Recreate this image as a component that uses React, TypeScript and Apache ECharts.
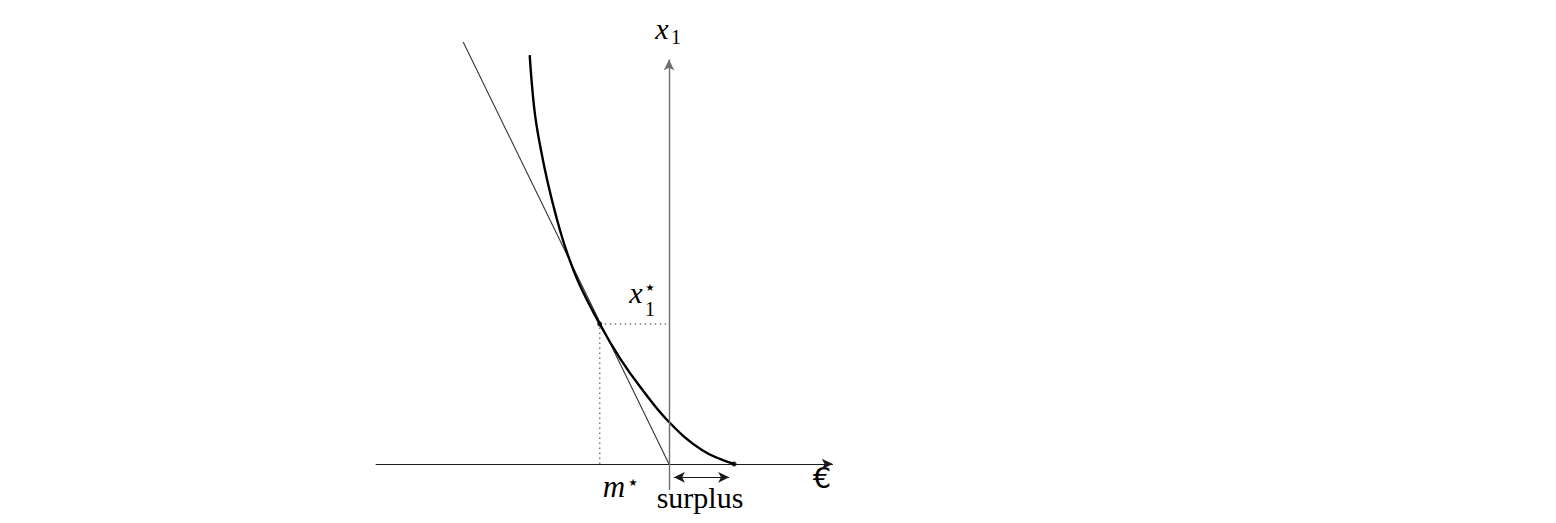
import { useEffect, useRef } from "react";
import * as echarts from "echarts";

// Indifference-type curve (units: 70px = 1)
const curveX = [-1.99, -1.96, -1.91, -1.83, -1.73, -1.61, -1.47, -1.29, -0.99, -0.7, -0.41, 0, 0.47, 0.93];
const curveY = [5.84, 5.44, 4.96, 4.49, 4.01, 3.53, 3.06, 2.59, 2.0, 1.51, 1.1, 0.6, 0.2, 0];
// Tangent (budget) line through the origin
const tangentX = [-2.94, 0];
const tangentY = [6.03, 0];
// Optimum and surplus
const mStar = -0.99;
const x1Star = 2.0;
const surplusEnd = 0.93;
const surplusY = -0.19;
// Axis extents
const xAxisFrom = -4.19;
const xAxisTo = 2.34;
const yAxisFrom = -0.37;
const yAxisTo = 5.78;
// Texts
const labelX = "x";
const labelSub1 = "1";
const labelStar = "\u22C6";
const labelM = "m";
const labelSurplus = "surplus";
const labelEuro = "\u20AC";

export default function App() {
  const ref = useRef<HTMLDivElement>(null);
  useEffect(() => {
    const chart = echarts.init(ref.current!, null, { renderer: "svg" });
    const serif = '"Liberation Serif", "DejaVu Serif", serif';
    const txt = (text: string, x: number, y: number, size: number, italic: boolean, family = serif) => ({
      type: "text",
      x,
      y,
      silent: true,
      style: {
        text,
        fontSize: size,
        fontFamily: family,
        fontStyle: italic ? "italic" : "normal",
        fill: "#000",
        align: "center",
        verticalAlign: "middle",
        textAlign: "center",
        textVerticalAlign: "middle",
      },
    });
    const arrowLine = (from: number[], to: number[], symbols: string[], color: string, width: number, z: number) => ({
      type: "line",
      data: [],
      z,
      silent: true,
      markLine: {
        silent: true,
        animation: false,
        symbol: symbols,
        symbolSize: [8, 11],
        label: { show: false },
        emphasis: { disabled: true },
        lineStyle: { color, width, type: "solid" },
        data: [[{ coord: from }, { coord: to }]],
      },
    });
    chart.setOption({
      animation: false,
      grid: { left: 361, top: 30, width: 490, height: 469 },
      xAxis: { type: "value", min: -4.4, max: 2.6, show: false },
      yAxis: { type: "value", min: -0.5, max: 6.2, show: false },
      series: [
        arrowLine([xAxisFrom, 0], [xAxisTo, 0], ["none", "arrow"], "#1a1a1a", 1.2, 1),
        arrowLine([0, yAxisFrom], [0, yAxisTo], ["none", "arrow"], "#6e6e6e", 1.4, 1),
        arrowLine([0.07, surplusY], [surplusEnd - 0.07, surplusY], ["arrow", "arrow"], "#1a1a1a", 1.2, 1),
        {
          type: "line",
          data: [[mStar, 0], [mStar, x1Star], [0, x1Star]],
          symbol: "none",
          silent: true,
          z: 2,
          lineStyle: { color: "#7a7a7a", width: 1.5, type: [1.5, 3.5] },
        },
        {
          type: "line",
          data: tangentX.map((x, i) => [x, tangentY[i]]),
          symbol: "none",
          silent: true,
          z: 3,
          lineStyle: { color: "#333", width: 1.1 },
        },
        {
          type: "line",
          data: curveX.map((x, i) => [x, curveY[i]]),
          symbol: "none",
          smooth: 0.4,
          silent: true,
          z: 4,
          lineStyle: { color: "#000", width: 2.4 },
        },
        {
          type: "scatter",
          data: [[mStar, x1Star], [surplusEnd, 0]],
          symbolSize: 5,
          silent: true,
          z: 5,
          itemStyle: { color: "#000" },
        },
      ],
      graphic: [
        txt(labelX, 662, 28, 30, true),
        txt(labelSub1, 676, 37, 20, false),
        txt(labelX, 636, 292, 30, true),
        txt(labelStar, 650, 287, 20, false, '"DejaVu Sans", sans-serif'),
        txt(labelSub1, 650, 309, 20, false),
        txt(labelM, 614, 486, 31, true),
        txt(labelStar, 633, 482, 20, false, '"DejaVu Sans", sans-serif'),
        txt(labelSurplus, 700, 497, 30, false),
        txt(labelEuro, 822, 478, 29, false, '"DejaVu Sans", sans-serif'),
      ],
    });
    return () => chart.dispose();
  }, []);
  return <div ref={ref} style={{ position: "absolute", left: 0, top: 0, width: 1556, height: 523 }} />;
}
